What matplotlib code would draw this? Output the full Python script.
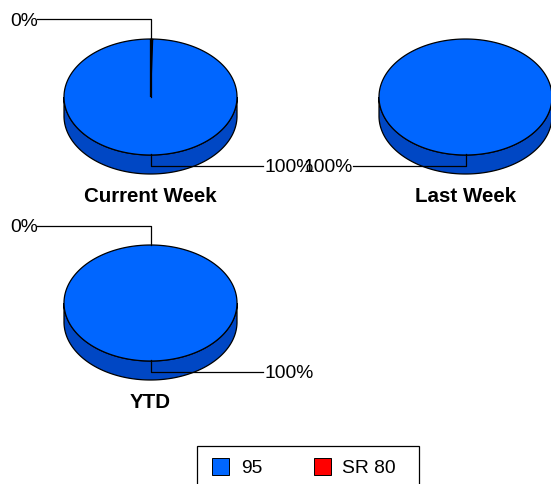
import numpy as np
import matplotlib
matplotlib.use("Agg")
import matplotlib.pyplot as plt
from matplotlib.patches import Polygon, Rectangle

plt.rcParams['font.family'] = ['Liberation Sans', 'DejaVu Sans']

titles = ["Current Week", "Last Week", "YTD"]
series_names = ["95", "SR 80"]
values_95 = [99.6, 100.0, 100.0]
values_sr80 = [0.4, 0.0, 0.0]
top_colors = ["#0066FF", "#FF0000"]
side_colors = ["#0047C4", "#B30000"]

W, H = 551, 484
fig = plt.figure(figsize=(W / 100, H / 100), dpi=100)
ax = fig.add_axes([0, 0, 1, 1])
ax.set_xlim(0, W)
ax.set_ylim(H, 0)
ax.axis("off")

RX, RY, DEPTH = 86.5, 58, 19
centers = [(150.5, 97), (465.5, 97), (150.5, 303)]
title_y = [196, 196, 402]
zero_label = [True, False, True]
label_100_side = ["right", "left", "right"]
LABEL_FS = 13.9
TITLE_FS = 14.8


def arc(cx, cy, a0, a1):
    """Angles clockwise from 12 o'clock, in degrees."""
    t = np.radians(np.linspace(a0, a1, max(int(abs(a1 - a0)) * 2, 2)))
    return np.column_stack([cx + RX * np.sin(t), cy - RY * np.cos(t)])


def draw_pie(cx, cy, vals):
    total = sum(vals)
    # side wall (visible front half only)
    front = arc(cx, cy, 90, 270)
    wall = np.vstack([front, front[::-1] + [0, DEPTH]])
    ax.add_patch(Polygon(wall, closed=True, fc=side_colors[0], ec="black", lw=0.9, zorder=2))
    start = 0.0
    for i in (1, 0):
        v = vals[i]
        if v <= 0:
            continue
        sweep = 360 * v / total
        pts = arc(cx, cy, start, start + sweep)
        if sweep < 360:
            pts = np.vstack([[cx, cy], pts])
        ax.add_patch(Polygon(pts, closed=True, fc=top_colors[i], ec="black", lw=0.9, zorder=3))
        start += sweep


for k, title in enumerate(titles):
    cx, cy = centers[k]
    draw_pie(cx, cy, [values_95[k], values_sr80[k]])
    ax.text(cx, title_y[k], title, ha="center", va="center", fontsize=TITLE_FS,
            fontweight="bold", color="black", zorder=6)

    # 100 % leader line
    y100 = cy + 69
    x_anchor = cx + 0.5
    if label_100_side[k] == "right":
        xs = [x_anchor, x_anchor, 263]
        ax.text(264, y100 + 2, "100%", ha="left", va="center", fontsize=LABEL_FS, zorder=6)
    else:
        xs = [x_anchor, x_anchor, 353]
        ax.text(353, y100 + 2, "100%", ha="right", va="center", fontsize=LABEL_FS, zorder=6)
    ax.plot(xs, [cy + 57, y100, y100], color="black", lw=0.9, zorder=5)

    # 0 % leader line
    if zero_label[k]:
        y0 = cy - 78 if k == 0 else cy - 77
        ax.plot([37, cx, cx], [y0, y0, cy - 58 if k else cy],
                color="black", lw=0.9, zorder=5)
        ax.text(10, y0 + 2, "0%", ha="left", va="center", fontsize=LABEL_FS, zorder=6)

# legend (its frame runs off the bottom edge of the picture)
ax.add_patch(Rectangle((197, 446), 222, 60, fc="white", ec="black", lw=0.9, zorder=1))
legend_box_x = [212, 314]
legend_text_x = [241, 342]
for i, name in enumerate(series_names):
    ax.add_patch(Rectangle((legend_box_x[i], 458), 17, 17, fc=top_colors[i], ec="black", lw=0.7, zorder=4))
    ax.text(legend_text_x[i], 468.5, name, ha="left", va="center", fontsize=LABEL_FS, zorder=6)

fig.savefig("out.png", dpi=100)
